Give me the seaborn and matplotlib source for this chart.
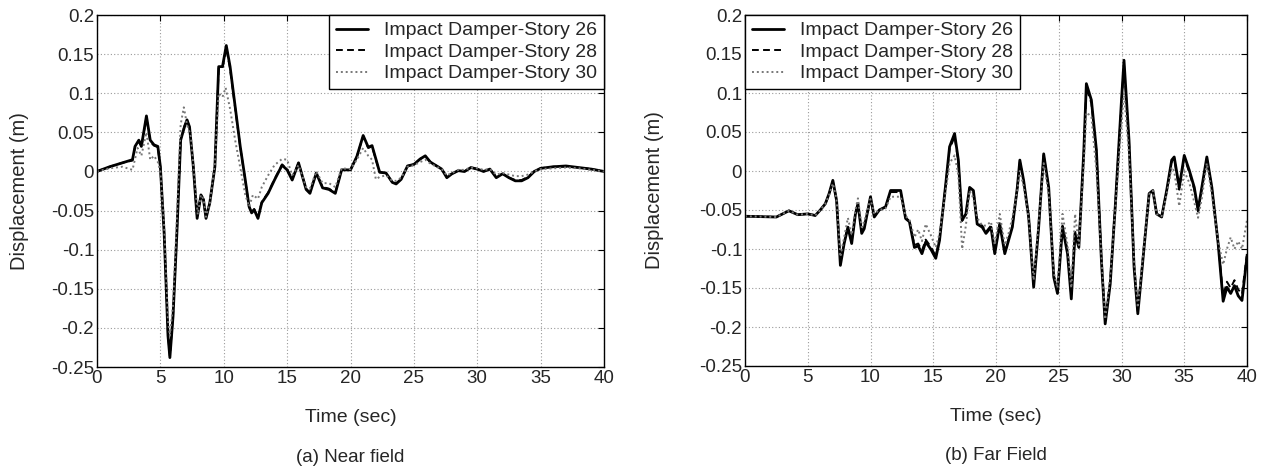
import matplotlib
matplotlib.use("Agg")
import matplotlib.pyplot as plt
import seaborn as sns
import pandas as pd

# ---------------- Near field data ----------------
near_t26 = [0, 1, 2, 2.8, 3.0, 3.3, 3.5, 3.9, 4.2, 4.5, 4.8, 5.0, 5.3, 5.6, 5.75, 6.0, 6.3, 6.6, 6.9, 7.1,
            7.3, 7.6, 7.9, 8.2, 8.4, 8.6, 8.9, 9.3, 9.6, 9.9, 10.2, 10.5, 10.9, 11.3, 11.7, 12.0, 12.2, 12.4,
            12.7, 13.0, 13.5, 14.0, 14.6, 15.0, 15.4, 15.9, 16.5, 16.8, 17.3, 17.8, 18.3, 18.8, 19.3, 20.0,
            20.5, 21.0, 21.4, 21.7, 22.0, 22.3, 22.8, 23.3, 23.6, 24.0, 24.5, 25.0, 25.5, 25.9, 26.3, 26.8,
            27.2, 27.6, 28.0, 28.5, 29.0, 29.5, 30.0, 30.5, 31.0, 31.5, 32.0, 32.5, 33.0, 33.5, 34.0, 34.5,
            35.0, 36.0, 37.0, 38.0, 39.0, 40.0]
near_s26 = [0, 0.006, 0.011, 0.015, 0.032, 0.040, 0.032, 0.071, 0.040, 0.034, 0.032, 0.006, -0.080, -0.210,
            -0.238, -0.185, -0.080, 0.040, 0.057, 0.066, 0.057, 0.006, -0.060, -0.030, -0.036, -0.060, -0.040,
            0.006, 0.134, 0.134, 0.161, 0.134, 0.083, 0.032, -0.011, -0.045, -0.053, -0.049, -0.060, -0.040,
            -0.028, -0.011, 0.008, 0.002, -0.011, 0.011, -0.023, -0.028, -0.002, -0.021, -0.023, -0.028, 0.002,
            0.002, 0.019, 0.046, 0.031, 0.033, 0.016, -0.001, -0.002, -0.014, -0.016, -0.010, 0.007, 0.009,
            0.016, 0.020, 0.012, 0.007, 0.003, -0.008, -0.003, 0.001, 0.000, 0.005, 0.003, 0.000, 0.003, -0.008,
            -0.003, -0.008, -0.012, -0.012, -0.008, 0.000, 0.004, 0.006, 0.007, 0.005, 0.003, 0.000]
near_s28 = [0, 0.006, 0.011, 0.014, 0.031, 0.039, 0.031, 0.069, 0.038, 0.033, 0.031, 0.005, -0.079, -0.208,
            -0.236, -0.183, -0.078, 0.041, 0.058, 0.066, 0.056, 0.005, -0.059, -0.030, -0.036, -0.059, -0.040,
            0.007, 0.132, 0.132, 0.158, 0.131, 0.081, 0.031, -0.012, -0.045, -0.052, -0.048, -0.059, -0.039,
            -0.027, -0.010, 0.009, 0.003, -0.010, 0.011, -0.022, -0.027, -0.002, -0.020, -0.022, -0.027, 0.002,
            0.002, 0.019, 0.045, 0.030, 0.032, 0.015, -0.001, -0.002, -0.014, -0.015, -0.010, 0.007, 0.009,
            0.016, 0.019, 0.012, 0.007, 0.003, -0.007, -0.003, 0.001, 0.000, 0.005, 0.003, 0.000, 0.003, -0.007,
            -0.003, -0.008, -0.011, -0.011, -0.007, 0.000, 0.004, 0.006, 0.006, 0.005, 0.003, 0.000]
near_t30 = [0, 1, 2, 2.8, 3.2, 3.5, 3.9, 4.2, 4.5, 4.8, 5.0, 5.3, 5.6, 5.75, 6.0, 6.3, 6.6, 6.85, 7.1, 7.4,
            7.7, 7.95, 8.2, 8.4, 8.6, 8.9, 9.3, 9.6, 9.9, 10.15, 10.5, 10.9, 11.3, 11.7, 12.0, 12.3, 12.7,
            13.0, 13.5, 14.0, 14.6, 15.0, 15.4, 15.9, 16.5, 16.8, 17.3, 17.8, 18.3, 18.8, 19.3, 20.0, 20.5,
            21.0, 21.4, 21.7, 22.0, 22.3, 22.8, 23.3, 23.6, 24.0, 24.5, 25.0, 25.5, 25.9, 26.3, 26.8, 27.2,
            27.6, 28.0, 28.5, 29.0, 29.5, 30.0, 30.5, 31.0, 31.5, 32.0, 32.5, 33.0, 33.5, 34.0, 34.5, 35.0,
            36.0, 37.0, 38.0, 39.0, 40.0]
near_s30 = [0, 0.004, 0.006, 0.002, 0.030, 0.020, 0.050, 0.015, 0.020, 0.012, 0.000, -0.070, -0.190, -0.210,
            -0.170, -0.060, 0.060, 0.082, 0.060, 0.045, -0.010, -0.055, -0.030, -0.035, -0.058, -0.040, 0.010,
            0.100, 0.095, 0.107, 0.080, 0.040, 0.005, -0.030, -0.045, -0.030, -0.035, -0.020, -0.005, 0.008,
            0.016, 0.015, -0.005, 0.008, -0.020, -0.022, 0.000, -0.015, -0.015, -0.020, 0.004, 0.003, 0.015,
            0.030, 0.020, 0.015, -0.010, -0.007, -0.005, -0.012, -0.012, -0.008, 0.006, 0.008, 0.012, 0.015,
            0.010, 0.006, 0.003, -0.005, -0.002, 0.002, 0.002, 0.005, 0.004, 0.002, 0.003, -0.004, -0.002,
            -0.004, -0.006, -0.006, -0.004, 0.000, 0.003, 0.004, 0.005, 0.004, 0.002, 0.000]

# ---------------- Far field data ----------------
far_t26 = [0, 2.5, 3.5, 4.2, 5.0, 5.6, 6.0, 6.4, 6.7, 7.0, 7.3, 7.6, 7.9, 8.2, 8.5, 8.8, 9.0, 9.3, 9.5, 10.0,
           10.3, 10.7, 11.2, 11.6, 12.4, 12.8, 13.1, 13.5, 13.8, 14.1, 14.4, 14.8, 15.2, 15.5, 16.0, 16.3,
           16.7, 17.0, 17.3, 17.6, 17.9, 18.2, 18.5, 18.9, 19.2, 19.6, 19.9, 20.3, 20.7, 21.0, 21.3, 21.7,
           21.9, 22.2, 22.6, 23.0, 23.4, 23.8, 24.2, 24.6, 24.9, 25.3, 25.7, 26.0, 26.3, 26.6, 27.0, 27.2,
           27.6, 28.0, 28.4, 28.7, 29.1, 29.5, 30.0, 30.2, 30.6, 31.0, 31.3, 31.7, 32.2, 32.5, 32.8, 33.2,
           33.6, 34.0, 34.2, 34.6, 35.0, 35.4, 35.8, 36.1, 36.4, 36.8, 37.2, 37.7, 38.1, 38.4, 38.7, 39.0,
           39.3, 39.6, 40.0]
far_s26 = [-0.058, -0.059, -0.051, -0.056, -0.055, -0.057, -0.050, -0.042, -0.029, -0.012, -0.038, -0.121,
           -0.093, -0.072, -0.093, -0.055, -0.042, -0.080, -0.074, -0.033, -0.059, -0.050, -0.046, -0.025,
           -0.025, -0.061, -0.065, -0.098, -0.096, -0.106, -0.091, -0.100, -0.112, -0.089, -0.016, 0.031,
           0.048, 0.014, -0.063, -0.055, -0.021, -0.025, -0.068, -0.072, -0.080, -0.072, -0.106, -0.068,
           -0.106, -0.089, -0.072, -0.021, 0.014, -0.012, -0.059, -0.149, -0.072, 0.022, -0.021, -0.136,
           -0.157, -0.072, -0.106, -0.164, -0.080, -0.098, 0.027, 0.112, 0.091, 0.027, -0.115, -0.196,
           -0.145, -0.046, 0.091, 0.142, 0.039, -0.123, -0.183, -0.115, -0.029, -0.025, -0.055, -0.059,
           -0.025, 0.014, 0.018, -0.021, 0.020, 0.001, -0.021, -0.050, -0.021, 0.018, -0.021, -0.093, -0.167,
           -0.149, -0.157, -0.147, -0.160, -0.166, -0.110]
far_s28 = [-0.058, -0.059, -0.051, -0.056, -0.055, -0.057, -0.050, -0.042, -0.030, -0.013, -0.038, -0.118,
           -0.091, -0.071, -0.090, -0.054, -0.042, -0.078, -0.072, -0.034, -0.058, -0.050, -0.046, -0.027,
           -0.027, -0.060, -0.064, -0.095, -0.093, -0.102, -0.088, -0.097, -0.109, -0.087, -0.017, 0.028,
           0.044, 0.012, -0.064, -0.056, -0.022, -0.025, -0.066, -0.070, -0.078, -0.070, -0.103, -0.067,
           -0.103, -0.087, -0.071, -0.022, 0.012, -0.013, -0.058, -0.145, -0.070, 0.020, -0.022, -0.133,
           -0.153, -0.070, -0.103, -0.160, -0.078, -0.095, 0.024, 0.106, 0.087, 0.025, -0.112, -0.192,
           -0.141, -0.045, 0.087, 0.136, 0.037, -0.120, -0.180, -0.112, -0.029, -0.025, -0.054, -0.058,
           -0.026, 0.012, 0.016, -0.024, 0.018, -0.002, -0.024, -0.052, -0.023, 0.016, -0.022, -0.092, -0.160,
           -0.142, -0.150, -0.140, -0.152, -0.158, -0.105]
far_s30 = [-0.058, -0.059, -0.051, -0.056, -0.055, -0.057, -0.050, -0.042, -0.031, -0.016, -0.036, -0.110,
           -0.085, -0.060, -0.082, -0.050, -0.035, -0.072, -0.065, -0.036, -0.055, -0.050, -0.048, -0.033,
           -0.033, -0.058, -0.062, -0.085, -0.075, -0.090, -0.068, -0.082, -0.098, -0.080, -0.025, 0.010,
           0.020, -0.005, -0.100, -0.070, -0.025, -0.035, -0.060, -0.070, -0.070, -0.065, -0.095, -0.055,
           -0.095, -0.080, -0.060, -0.025, 0.000, -0.020, -0.060, -0.140, -0.065, 0.010, -0.030, -0.130,
           -0.150, -0.055, -0.095, -0.150, -0.055, -0.095, 0.010, 0.075, 0.070, 0.000, -0.110, -0.190,
           -0.135, -0.050, 0.060, 0.100, 0.020, -0.115, -0.175, -0.110, -0.030, -0.025, -0.055, -0.058,
           -0.030, 0.005, 0.000, -0.045, 0.000, -0.015, -0.040, -0.060, -0.035, 0.010, -0.030, -0.090, -0.120,
           -0.100, -0.085, -0.100, -0.090, -0.100, -0.063]

labels = ["Impact Damper-Story 26", "Impact Damper-Story 28", "Impact Damper-Story 30"]
y_ticks = [0.2, 0.15, 0.1, 0.05, 0, -0.05, -0.1, -0.15, -0.2, -0.25]
y_ticklabels = ["0.2", "0.15", "0.1", "0.05", "0", "-0.05", "-0.1", "-0.15", "-0.2", "-0.25"]
x_ticks = [0, 5, 10, 15, 20, 25, 30, 35, 40]
captions = ["(a) Near field", "(b) Far Field"]

sns.set_style("white")
plt.rcParams['font.family'] = ['Liberation Sans', 'DejaVu Sans']

fig = plt.figure(figsize=(12.66, 4.67), dpi=100)
ax1 = fig.add_axes([97 / 1266, 1 - 367 / 467, 507 / 1266, 352 / 467])
ax2 = fig.add_axes([745 / 1266, 1 - 366 / 467, 502 / 1266, 351 / 467])

styles = [dict(color="black", linestyle="-", linewidth=2.0),
          dict(color="black", linestyle=(0, (3.5, 2.2)), linewidth=1.4),
          dict(color="#777777", linestyle=(0, (1, 1.5)), linewidth=1.4)]

def draw(ax, series, legend_loc, caption, ylab_x):
    for (t, v), lab, st in zip(series, labels, styles):
        df = pd.DataFrame({"t": t, "v": v})
        sns.lineplot(data=df, x="t", y="v", ax=ax, label=lab, sort=False, **st)
    ax.set_xlim(0, 40)
    ax.set_ylim(-0.25, 0.2)
    ax.set_xticks(x_ticks)
    ax.set_xticklabels([str(x) for x in x_ticks])
    ax.set_yticks(y_ticks)
    ax.set_yticklabels(y_ticklabels)
    ax.tick_params(direction="in", length=4, labelsize=13.5, width=0.8, color="black", pad=2,
                   top=True, right=True)
    ax.grid(True, color="#9a9a9a", linestyle=(0, (1, 2)), linewidth=0.8)
    for s in ax.spines.values():
        s.set_color("black")
        s.set_linewidth(1.0)
    ax.set_xlabel("Time (sec)", fontsize=14)
    ax.xaxis.label.set_va("center")
    ax.xaxis.set_label_coords(0.5, -(418 - 367) / 352)
    ax.set_ylabel("Displacement (m)", fontsize=14.5)
    ax.yaxis.label.set_va("center")
    ax.yaxis.set_label_coords(ylab_x, 0.5)
    leg = ax.legend(loc=legend_loc, fontsize=14, frameon=True, fancybox=False,
                    borderaxespad=0, handlelength=1.65, handletextpad=0.85,
                    borderpad=0.35, labelspacing=0.2)
    leg.get_frame().set_edgecolor("black")
    leg.get_frame().set_linewidth(1.0)
    leg.get_frame().set_alpha(1)
    ax.text(0.5, -(457 - 367) / 352, caption, transform=ax.transAxes, ha="center", va="center",
            fontsize=13.5)

draw(ax1, [(near_t26, near_s26), (near_t26, near_s28), (near_t30, near_s30)], "upper right",
     captions[0], (20 - 97) / 507)
draw(ax2, [(far_t26, far_s26), (far_t26, far_s28), (far_t26, far_s30)], "upper left",
     captions[1], (655 - 745) / 502)

fig.savefig("out.png", dpi=100)
